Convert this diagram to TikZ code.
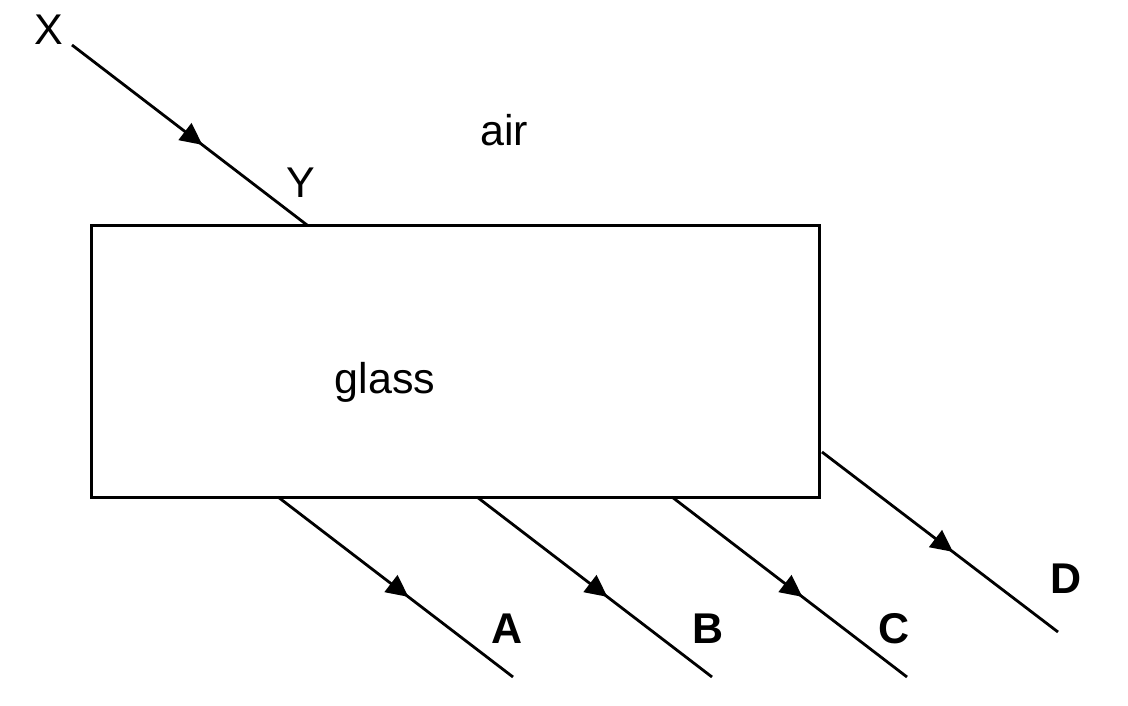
\documentclass[tikz,border=0pt]{standalone}
\usepackage{fontspec}
\setmainfont{Liberation Sans}
\usetikzlibrary{arrows.meta,decorations.markings}
\tikzset{
  ray/.style={line width=2.8pt, postaction={decorate},
    decoration={markings, mark=at position 0.555 with {\arrow{Triangle[length=22pt,width=21pt]}}}},
  glassbox/.style={draw, line width=3pt},
  lbl/.style={font=\fontsize{43}{50}\selectfont, anchor=base, inner sep=0pt},
  blbl/.style={font=\fontsize{43}{50}\selectfont\bfseries, anchor=base, inner sep=0pt}
}
\begin{document}
\begin{tikzpicture}[x=1pt,y=-1pt]
\useasboundingbox (0,0) rectangle (1128,706);
\draw[glassbox] (91,225) rectangle (819,497);
\coordinate (x0) at (72,45);
\coordinate (y0) at (307,225);
\coordinate (a0) at (278,497);
\coordinate (a1) at (513,677);
\coordinate (b0) at (477,497);
\coordinate (b1) at (712,677);
\coordinate (c0) at (672,497);
\coordinate (c1) at (907,677);
\coordinate (d0) at (822,452);
\coordinate (d1) at (1058,632);
\draw[ray] (x0) -- (y0);
\draw[ray] (a0) -- (a1);
\draw[ray] (b0) -- (b1);
\draw[ray] (c0) -- (c1);
\draw[ray] (d0) -- (d1);
\node[lbl] (X) at (49,45) {X};
\node[lbl] (Y) at (301,197) {Y};
\node[lbl] (air) at (504,146) {air};
\node[lbl] (glass) at (385,393) {glass};
\node[blbl] (A) at (507,643) {A};
\node[blbl] (B) at (708,643) {B};
\node[blbl] (C) at (894,643) {C};
\node[blbl] (D) at (1066,593) {D};
\end{tikzpicture}
\end{document}
